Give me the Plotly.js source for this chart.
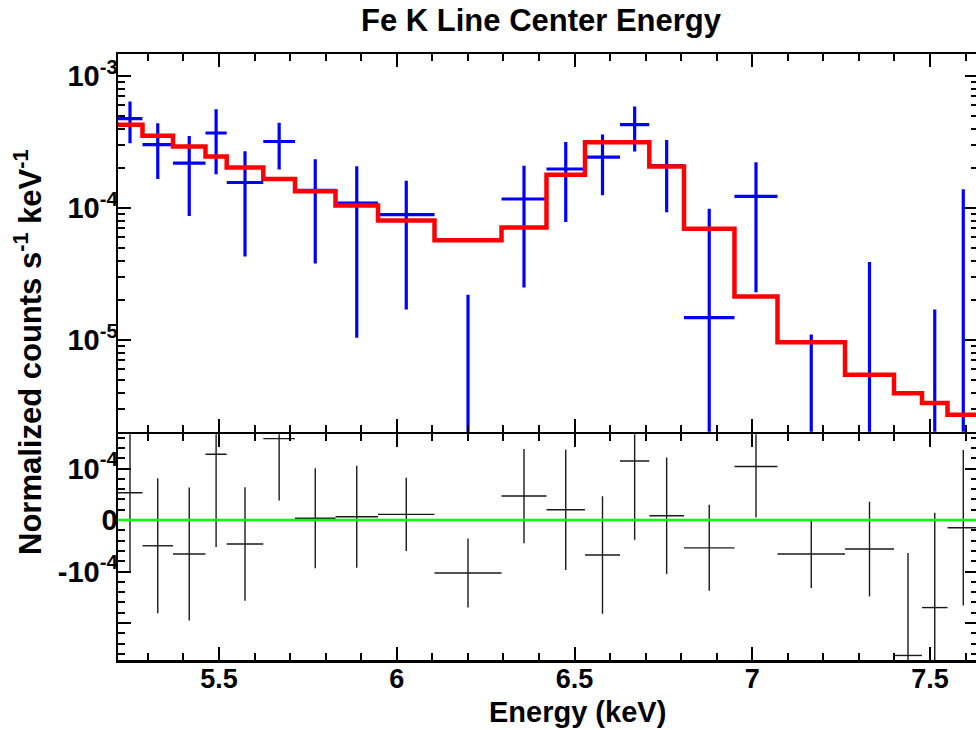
<!DOCTYPE html>
<html>
<head>
<meta charset="utf-8">
<script src="https://cdn.plot.ly/plotly-3.0.1.min.js"></script>
<style>
html,body{margin:0;padding:0;overflow:hidden;background:#fff;}
#chart{width:980px;height:730px;}
</style>
</head>
<body>
<div id="chart"></div>
<script>
// ---- data ----
const binEdges = [5.2145, 5.2848, 5.3706, 5.462, 5.5217, 5.6246, 5.7138, 5.8277, 5.9473, 6.1062, 6.2947,
                  6.4212, 6.5295, 6.628, 6.7104, 6.808, 6.950, 7.071, 7.2609, 7.3987, 7.4775, 7.5492, 7.638];
const counts = [4.75e-4, 3.02e-4, 2.19e-4, 3.70e-4, 1.56e-4, 3.19e-4, 1.36e-4, 1.09e-4, 8.9e-5, -4.6e-5, 1.17e-4,
                1.975e-4, 2.43e-4, 4.28e-4, 2.1e-4, 1.48e-5, 1.225e-4, -5.5e-5, -5.1e-5, -2.59e-4, -1.67e-4, -1.2e-5];
const countErr = [1.65e-4, 1.36e-4, 1.32e-4, 1.9e-4, 1.13e-4, 1.235e-4, 0.98e-4, 0.986e-4, 0.72e-4, 0.68e-4, 0.92e-4,
                  1.19e-4, 1.18e-4, 1.6e-4, 1.17e-4, 0.84e-4, 0.995e-4, 0.66e-4, 0.9e-4, 1.99e-4, 1.84e-4, 1.51e-4];
const model = [4.28e-4, 3.53e-4, 2.93e-4, 2.46e-4, 2.03e-4, 1.66e-4, 1.34e-4, 1.047e-4, 8.05e-5, 5.69e-5, 7.13e-5,
               1.787e-4, 3.15e-4, 3.15e-4, 2.065e-4, 6.97e-5, 2.14e-5, 9.6e-6, 5.46e-6, 3.95e-6, 3.33e-6, 2.72e-6];
const resid = [0.53e-4, -0.50e-4, -0.66e-4, 1.276e-4, -0.466e-4, 1.58e-4, 0.033e-4, 0.064e-4, 0.11e-4, -1.03e-4, 0.466e-4,
               0.2e-4, -0.68e-4, 1.146e-4, 0.084e-4, -0.54e-4, 1.04e-4, -0.66e-4, -0.563e-4, -2.63e-4, -1.70e-4, -0.15e-4];
const residErr = [1.52e-4, 1.31e-4, 1.29e-4, 1.8e-4, 1.1e-4, 1.2e-4, 0.97e-4, 0.99e-4, 0.71e-4, 0.67e-4, 0.915e-4,
                  1.17e-4, 1.14e-4, 1.53e-4, 1.13e-4, 0.835e-4, 0.99e-4, 0.66e-4, 0.92e-4, 1.99e-4, 1.84e-4, 1.51e-4];

const xTickVals = [5.5, 6, 6.5, 7, 7.5];
const xTickText = ['5.5', '6', '6.5', '7', '7.5'];
const yTopTickVals = [1e-5, 1e-4, 1e-3];
const yTopTickText = ['10<sup>-5</sup>', '10<sup>-4</sup>', '10<sup>-3</sup>'];
const yResTickVals = [-2e-4, -1e-4, 0, 1e-4];
const yResTickText = ['', '-10<sup>-4</sup>', '0', '10<sup>-4</sup>'];

const titleText = 'Fe K Line Center Energy';
const xTitleText = 'Energy (keV)';
const yTitleText = 'Normalized counts s<sup>-1</sup> keV<sup>-1</sup>';

// ---- derived ----
const centers = counts.map((_, i) => (binEdges[i] + binEdges[i + 1]) / 2);
const halfW = counts.map((_, i) => (binEdges[i + 1] - binEdges[i]) / 2);

// positive-valued bins drawn with native error bars
const posIdx = counts.map((v, i) => i).filter(i => counts[i] > 0);
// non-positive bins: only the upper part of the error bar is visible on the log axis
const negX = [], negY = [];
counts.forEach((v, i) => {
  if (v <= 0 && v + countErr[i] > 0) {
    negX.push(centers[i], centers[i], null);
    negY.push(1e-8, v + countErr[i], null);
  }
});

// minor tick values for the log axis (2..9 per decade)
const logMinor = [];
for (let d = -7; d <= -3; d++) for (let m = 2; m <= 9; m++) logMinor.push(m * Math.pow(10, d));

const stepX = binEdges.slice();
const stepY = model.concat([model[model.length - 1]]);

const fam = 'Liberation Sans, Arial, sans-serif';
const xFont = {family: fam, size: 27, color: '#000', weight: 'bold'};
const yFont = {family: fam, size: 29, color: '#000', weight: 'bold'};
const blue = '#0000ff';
const dark = '#1a1a1a';

const traces = [
  {
    x: posIdx.map(i => centers[i]), y: posIdx.map(i => counts[i]),
    xaxis: 'x2', yaxis: 'y', type: 'scatter', mode: 'markers',
    marker: {size: 1, color: blue, opacity: 0},
    error_x: {type: 'data', array: posIdx.map(i => halfW[i]), color: blue, thickness: 3.2, width: 0},
    error_y: {type: 'data', array: posIdx.map(i => countErr[i]), color: blue, thickness: 3.2, width: 0},
    hoverinfo: 'skip', showlegend: false
  },
  {
    x: negX, y: negY, xaxis: 'x2', yaxis: 'y', type: 'scatter', mode: 'lines',
    line: {color: blue, width: 3.2}, hoverinfo: 'skip', showlegend: false
  },
  {
    x: stepX, y: stepY, xaxis: 'x2', yaxis: 'y', type: 'scatter', mode: 'lines',
    line: {color: '#ff0000', width: 4.5, shape: 'hv'}, hoverinfo: 'skip', showlegend: false
  },
  {
    x: centers, y: resid, xaxis: 'x', yaxis: 'y2', type: 'scatter', mode: 'markers',
    marker: {size: 1, color: dark, opacity: 0},
    error_x: {type: 'data', array: halfW, color: dark, thickness: 1.4, width: 0},
    error_y: {type: 'data', array: residErr, color: dark, thickness: 1.4, width: 0},
    hoverinfo: 'skip', showlegend: false
  }
];

const common = {
  showline: true, linecolor: '#000', linewidth: 2.5, mirror: 'ticks',
  ticks: 'inside', ticklen: 13, tickwidth: 2, tickcolor: '#000',
  showgrid: false, zeroline: false
};
const minorStyle = {ticks: 'inside', ticklen: 7, tickwidth: 2, tickcolor: '#000', showgrid: false};

const layout = {
  width: 980, height: 730,
  margin: {l: 118, r: 2, t: 54, b: 70},
  paper_bgcolor: '#fff', plot_bgcolor: '#fff',
  showlegend: false,
  xaxis: Object.assign({}, common, {
    anchor: 'y2', domain: [0, 1], range: [5.2159, 7.635], tickfont: xFont,
    tickmode: 'array', tickvals: xTickVals, ticktext: xTickText,
    minor: Object.assign({tickmode: 'linear', tick0: 5.0, dtick: 0.1}, minorStyle),
    ticklabelstandoff: -7
  }),
  xaxis2: Object.assign({}, common, {
    anchor: 'y', domain: [0, 1], range: [5.2159, 7.635], matches: 'x', showticklabels: false, tickfont: xFont,
    tickmode: 'array', tickvals: xTickVals, ticktext: xTickText,
    minor: Object.assign({tickmode: 'linear', tick0: 5.0, dtick: 0.1}, minorStyle)
  }),
  yaxis: Object.assign({}, common, {
    anchor: 'x2', domain: [0.3766, 1], type: 'log', range: [-5.695, -2.8333], tickfont: yFont,
    tickmode: 'array', tickvals: yTopTickVals, ticktext: yTopTickText,
    minor: Object.assign({tickmode: 'array', tickvals: logMinor}, minorStyle),
    ticklabelstandoff: -8
  }),
  yaxis2: Object.assign({}, common, {
    anchor: 'x', domain: [0, 0.3725], range: [-2.718e-4, 1.665e-4], tickfont: yFont,
    tickmode: 'array', tickvals: yResTickVals, ticktext: yResTickText,
    minor: Object.assign({tickmode: 'linear', tick0: 0, dtick: 2e-5}, minorStyle),
    ticklabelstandoff: -8
  }),
  shapes: [
    {type: 'line', xref: 'x domain', yref: 'y2', x0: 0, x1: 1, y0: 0, y1: 0,
     line: {color: '#00ff00', width: 2.5}, layer: 'above'}
  ],
  annotations: [
    {text: titleText, xref: 'paper', yref: 'paper', x: (541 - 118) / 860, y: (660 - 20) / 606,
     xanchor: 'center', yanchor: 'middle', showarrow: false,
     font: {family: fam, size: 31, color: '#000', weight: 'bold'}},
    {text: xTitleText, xref: 'paper', yref: 'paper', x: (577 - 118) / 860, y: (660 - 712) / 606,
     xanchor: 'center', yanchor: 'middle', showarrow: false,
     font: {family: fam, size: 29, color: '#000', weight: 'bold'}},
    {text: yTitleText, xref: 'paper', yref: 'paper', x: (28 - 118) / 860, y: (660 - 352) / 606,
     xanchor: 'center', yanchor: 'middle', showarrow: false, textangle: -90,
     font: {family: fam, size: 31, color: '#000', weight: 'bold'}}
  ]
};

Plotly.newPlot('chart', traces, layout, {staticPlot: true, displayModeBar: false});
</script>
</body>
</html>
